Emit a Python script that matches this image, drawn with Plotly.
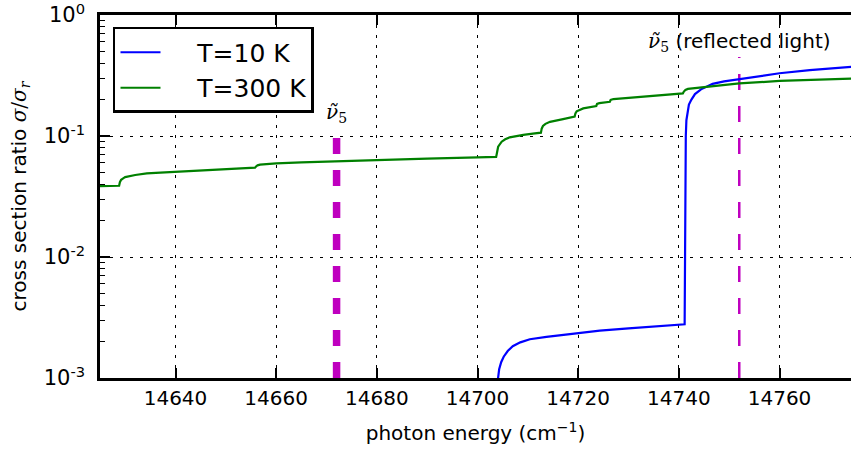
import numpy as np
import plotly.graph_objects as go

# Cross-section ratio vs photon energy, two temperatures
energy_10k = [14703.95, 14704.1, 14704.3, 14704.7, 14705.2, 14706.0, 14707.0, 14708.5,
              14710.4, 14713.7, 14717.0, 14720.3, 14724.3, 14730.0, 14735.0, 14741.15,
              14741.2, 14741.25, 14741.3, 14741.38, 14741.5, 14741.7, 14742.0, 14742.5,
              14743.2, 14744.4, 14746.7, 14749.0, 14752.0, 14756.0, 14760.0, 14766.0, 14775.0]
ratio_10k = [0.0009, 0.00105, 0.00118, 0.00135, 0.0015, 0.00167, 0.00183, 0.00197,
             0.00209, 0.00219, 0.00228, 0.00236, 0.00246, 0.00257, 0.00266, 0.00278,
             0.006, 0.02, 0.06, 0.1, 0.135, 0.16, 0.182, 0.2,
             0.222, 0.243, 0.27, 0.283, 0.295, 0.312, 0.33, 0.35, 0.375]

energy_300k = [14625.0, 14628.8, 14628.95, 14629.2, 14629.6, 14630.0, 14632.0, 14634.3,
               14637.0, 14640.0, 14645.0, 14650.0, 14655.8, 14656.0, 14656.3, 14656.8,
               14658.0, 14660.0, 14665.0, 14670.0, 14680.0, 14690.0, 14700.0, 14703.7,
               14703.85, 14704.1, 14704.8, 14705.5, 14706.4, 14707.5, 14709.1, 14711.0, 14712.6,
               14712.75, 14713.0, 14713.5, 14714.4, 14717.0, 14719.3, 14719.45, 14719.7,
               14721.0, 14723.6, 14723.75, 14724.2, 14726.3, 14726.45, 14727.0, 14730.3,
               14736.9, 14740.8, 14741.0, 14741.3, 14741.8, 14746.8, 14752.0, 14760.0,
               14766.0, 14775.0]
ratio_300k = [0.0385, 0.0388, 0.0415, 0.0435, 0.0447, 0.0457, 0.0476, 0.0491,
              0.0499, 0.0507, 0.0520, 0.0532, 0.0547, 0.0560, 0.0572, 0.0580,
              0.0586, 0.0595, 0.0605, 0.0615, 0.0633, 0.0650, 0.0665, 0.0672,
              0.0720, 0.0816, 0.0897, 0.0940, 0.0975, 0.0995, 0.1020, 0.1045, 0.1066,
              0.1150, 0.1210, 0.1260, 0.1310, 0.1380, 0.1445, 0.1540, 0.1600,
              0.1690, 0.1770, 0.1840, 0.1870, 0.1920, 0.1990, 0.2020, 0.2077,
              0.2180, 0.2250, 0.2330, 0.2400, 0.2450, 0.2590, 0.2720, 0.2850,
              0.2910, 0.2990]

# Marker lines for the nu_5 positions
nu5 = 14672.0
nu5_top = 0.1
nu5_reflected = 14752.0
nu5_reflected_top = 0.45
y_floor = 1e-3

y_tick_vals = [1e-3, 1e-2, 1e-1, 1e0]
y_tick_text = ["10<sup>-3</sup>", "10<sup>-2</sup>", "10<sup>-1</sup>", "10<sup>0</sup>"]
x_tick_vals = [14640, 14660, 14680, 14700, 14720, 14740, 14760]
x_tick_text = [str(v) for v in x_tick_vals]

SANS = "DejaVu Sans"
SERIF = "DejaVu Serif"
MAGENTA = "#bf00bf"
PAD = "\u00a0" * 4  # gap between legend line sample and its label

fig = go.Figure()

fig.add_trace(go.Scatter(
    x=[nu5, nu5], y=[y_floor, nu5_top], mode="lines", showlegend=False,
    line=dict(color=MAGENTA, width=7.5, dash="16px,16px"), hoverinfo="skip"))
fig.add_trace(go.Scatter(
    x=[nu5_reflected, nu5_reflected], y=[y_floor, nu5_reflected_top], mode="lines",
    showlegend=False, line=dict(color=MAGENTA, width=2.5, dash="16px,16px"),
    hoverinfo="skip"))

fig.add_trace(go.Scatter(
    x=energy_10k, y=ratio_10k, mode="lines", name=PAD + "T=10 K", legendgroup="a",
    line=dict(color="#0000ff", width=2.2)))
fig.add_trace(go.Scatter(
    x=energy_300k, y=ratio_300k, mode="lines", name=PAD + "T=300 K", legendgroup="b",
    line=dict(color="#008000", width=2.2)))

nu_label = f'<span style="font-family:{SERIF}"><i>ν̃</i><sub>5</sub></span>'
fig.add_annotation(x=nu5, y=np.log10(nu5_top), xref="x", yref="y",
                   text=nu_label, showarrow=False, yanchor="bottom", yshift=8,
                   font=dict(family=SERIF, size=20, color="black"))
fig.add_annotation(x=nu5_reflected, y=np.log10(nu5_reflected_top), xref="x", yref="y",
                   text=nu_label + " (reflected light)", showarrow=False,
                   yanchor="bottom", yshift=0,
                   font=dict(family=SANS, size=20, color="black"))

grid = dict(showgrid=True, gridcolor="black", gridwidth=1, griddash="3px,7px")

fig.update_xaxes(
    range=[14625, 14774.2], tickvals=x_tick_vals, ticktext=x_tick_text,
    ticks="inside", ticklen=10, ticklabeloverflow="allow",
    tickwidth=1.5, tickcolor="black", showline=True, linecolor="black", linewidth=2.5,
    mirror="ticks", zeroline=False,
    tickfont=dict(family=SANS, size=20, color="black"),
    title=dict(text="photon energy (cm<sup>−1</sup>)", standoff=18,
               font=dict(family=SANS, size=20, color="black")),
    **grid)

fig.update_yaxes(
    type="log", range=[-3, 0], tickvals=y_tick_vals, ticktext=y_tick_text,
    ticks="inside", ticklen=10, tickwidth=1.5, tickcolor="black",
    ticklabeloverflow="allow", ticklabelstandoff=8,
    showline=True, linecolor="black", linewidth=2.5, zeroline=False,
    minor=dict(ticks="inside", ticklen=5, tickwidth=1.2, tickcolor="black",
               dtick="D1", showgrid=False),
    tickfont=dict(family=SANS, size=21, color="black"),
    title=dict(text=f'cross section ratio <span style="font-family:{SERIF}"><i>σ</i>/<i>σ<sub>r</sub></i></span>',
               standoff=12, font=dict(family=SANS, size=20, color="black")),
    **grid)

fig.update_layout(
    width=851, height=450,
    margin=dict(l=100, r=0, t=15, b=72),
    paper_bgcolor="white", plot_bgcolor="white",
    font=dict(family=SANS, color="black"),
    showlegend=True,
    legend=dict(x=0.0173, y=0.967, xanchor="left", yanchor="top",
                bordercolor="black", borderwidth=2.5, bgcolor="white",
                font=dict(family=SANS, size=25, color="black"),
                tracegroupgap=0, itemwidth=40),
)

fig.write_html("out.html")
